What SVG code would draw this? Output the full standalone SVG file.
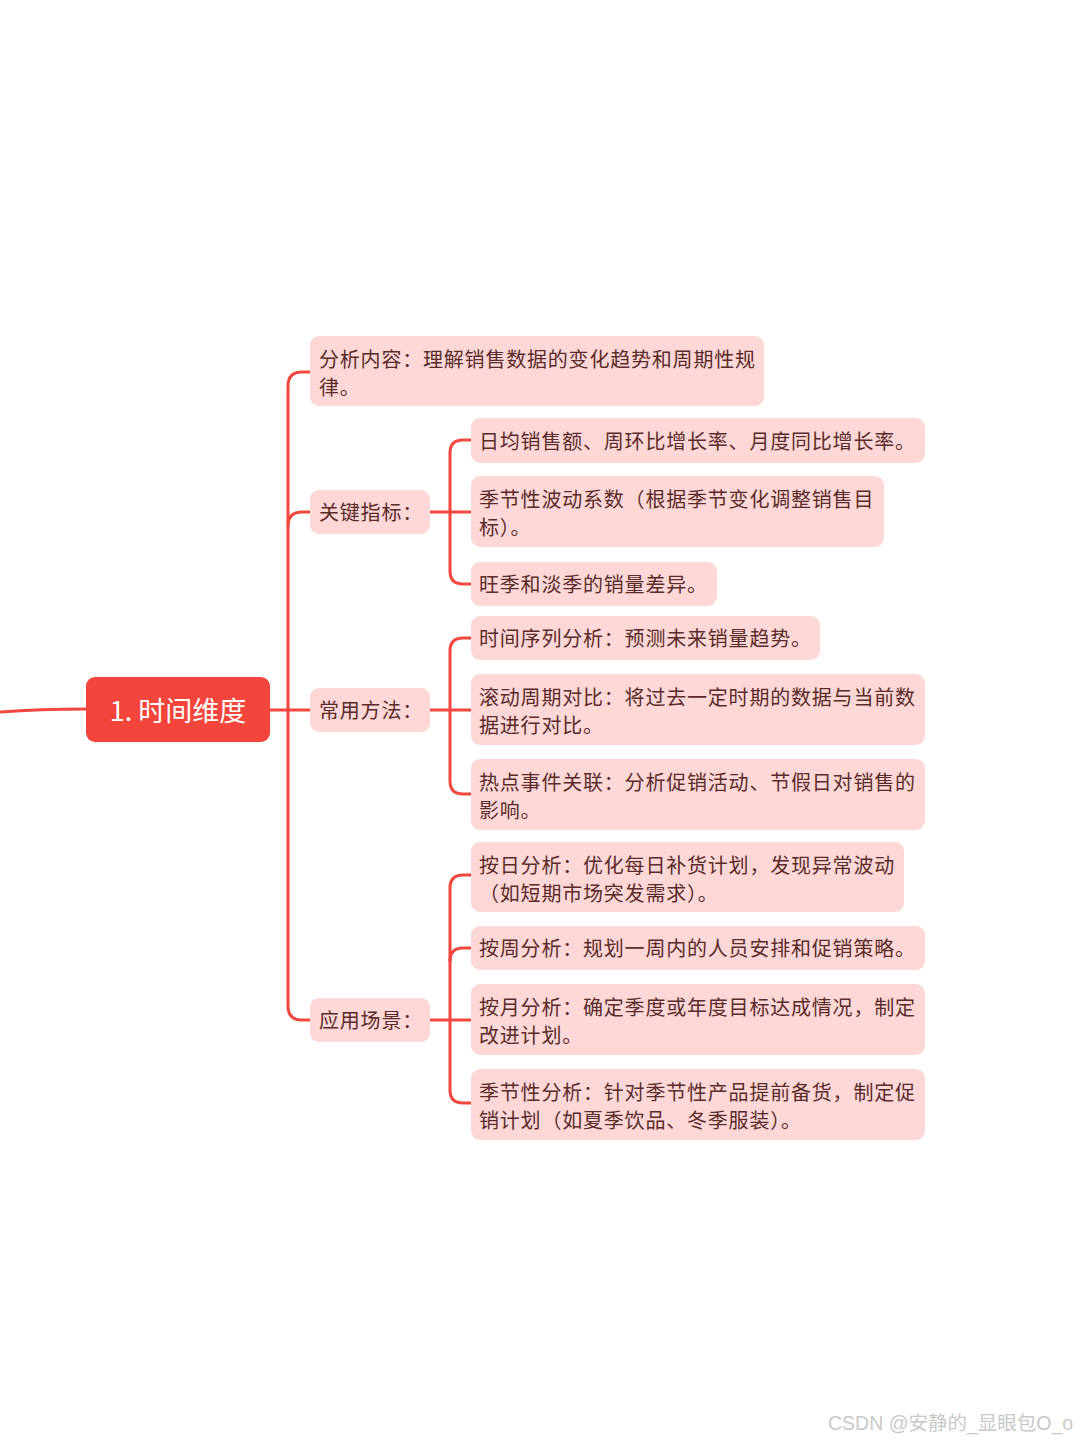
<svg xmlns="http://www.w3.org/2000/svg" width="1080" height="1440" viewBox="0 0 1080 1440">
<style>
.bg{fill:#ffffff}
.box{fill:#fdd8d7}
.t{font-family:"Noto Sans CJK SC","Noto Sans",sans-serif;font-size:20px;fill:#5b2b2b;letter-spacing:0.8px}
.root{fill:#f3453b}
.rt{font-family:"Noto Sans CJK SC","Noto Sans",sans-serif;font-size:27px;fill:#ffffff}
.c{fill:none;stroke:#f0473e;stroke-width:3;stroke-linecap:round;stroke-linejoin:round}
.wm{font-family:"Liberation Sans","Noto Sans CJK SC",sans-serif;font-size:19.5px;fill:#c9c9c9}
</style>
<rect class="bg" x="0" y="0" width="1080" height="1440"/>
<g id="connectors">
<path class="c" d="M0 712 Q40 709 86 709"/>
<path class="c" d="M270 710 H310"/>
<path class="c" d="M310 372 H302 Q288 372 288 386 V1006 Q288 1020 302 1020 H310"/>
<path class="c" d="M288 526 Q288 512 302 512 H310"/>
<path class="c" d="M430 512 H471"/>
<path class="c" d="M471 440 H463 Q450 440 450 453 V571 Q450 584 463 584 H471"/>
<path class="c" d="M430 710 H471"/>
<path class="c" d="M471 638 H463 Q450 638 450 651 V781 Q450 794 463 794 H471"/>
<path class="c" d="M430 1020 H471"/>
<path class="c" d="M471 875 H463 Q450 875 450 888 V1090 Q450 1103 463 1103 H471"/>
<path class="c" d="M450 961 Q450 948 463 948 H471"/>
</g>
<g id="root">
<rect class="root" x="86" y="677" width="184" height="65" rx="9"/>
<text class="rt" x="178" y="721" text-anchor="middle">1. 时间维度</text>
</g>
<g id="n-analysis">
<rect class="box" x="310" y="336" width="454" height="70" rx="9"/>
<text class="t" x="319" y="367">分析内容：理解销售数据的变化趋势和周期性规</text>
<text class="t" x="319" y="395">律。</text>
</g>
<g id="n-kpi">
<rect class="box" x="310" y="490" width="120" height="44" rx="9"/>
<text class="t" x="319" y="520">关键指标：</text>
</g>
<g id="n-kpi-1">
<rect class="box" x="471" y="418" width="454" height="45" rx="9"/>
<text class="t" x="479" y="449">日均销售额、周环比增长率、月度同比增长率。</text>
</g>
<g id="n-kpi-2">
<rect class="box" x="471" y="476" width="413" height="71" rx="9"/>
<text class="t" x="479" y="507">季节性波动系数（根据季节变化调整销售目</text>
<text class="t" x="479" y="535">标）。</text>
</g>
<g id="n-kpi-3">
<rect class="box" x="471" y="562" width="246" height="44" rx="9"/>
<text class="t" x="479" y="592">旺季和淡季的销量差异。</text>
</g>
<g id="n-method">
<rect class="box" x="310" y="688" width="120" height="44" rx="9"/>
<text class="t" x="319" y="718">常用方法：</text>
</g>
<g id="n-method-1">
<rect class="box" x="471" y="616" width="349" height="44" rx="9"/>
<text class="t" x="479" y="646">时间序列分析：预测未来销量趋势。</text>
</g>
<g id="n-method-2">
<rect class="box" x="471" y="674" width="454" height="71" rx="9"/>
<text class="t" x="479" y="705">滚动周期对比：将过去一定时期的数据与当前数</text>
<text class="t" x="479" y="733">据进行对比。</text>
</g>
<g id="n-method-3">
<rect class="box" x="471" y="759" width="454" height="71" rx="9"/>
<text class="t" x="479" y="790">热点事件关联：分析促销活动、节假日对销售的</text>
<text class="t" x="479" y="818">影响。</text>
</g>
<g id="n-scene">
<rect class="box" x="310" y="998" width="120" height="44" rx="9"/>
<text class="t" x="319" y="1028">应用场景：</text>
</g>
<g id="n-scene-1">
<rect class="box" x="471" y="842" width="433" height="70" rx="9"/>
<text class="t" x="479" y="873">按日分析：优化每日补货计划，发现异常波动</text>
<text class="t" x="479" y="901">（如短期市场突发需求）。</text>
</g>
<g id="n-scene-2">
<rect class="box" x="471" y="926" width="454" height="44" rx="9"/>
<text class="t" x="479" y="956">按周分析：规划一周内的人员安排和促销策略。</text>
</g>
<g id="n-scene-3">
<rect class="box" x="471" y="984" width="454" height="71" rx="9"/>
<text class="t" x="479" y="1015">按月分析：确定季度或年度目标达成情况，制定</text>
<text class="t" x="479" y="1043">改进计划。</text>
</g>
<g id="n-scene-4">
<rect class="box" x="471" y="1069" width="454" height="71" rx="9"/>
<text class="t" x="479" y="1100">季节性分析：针对季节性产品提前备货，制定促</text>
<text class="t" x="479" y="1128">销计划（如夏季饮品、冬季服装）。</text>
</g>
<text class="wm" x="828" y="1430">CSDN @安静的_显眼包O_o</text>
</svg>
